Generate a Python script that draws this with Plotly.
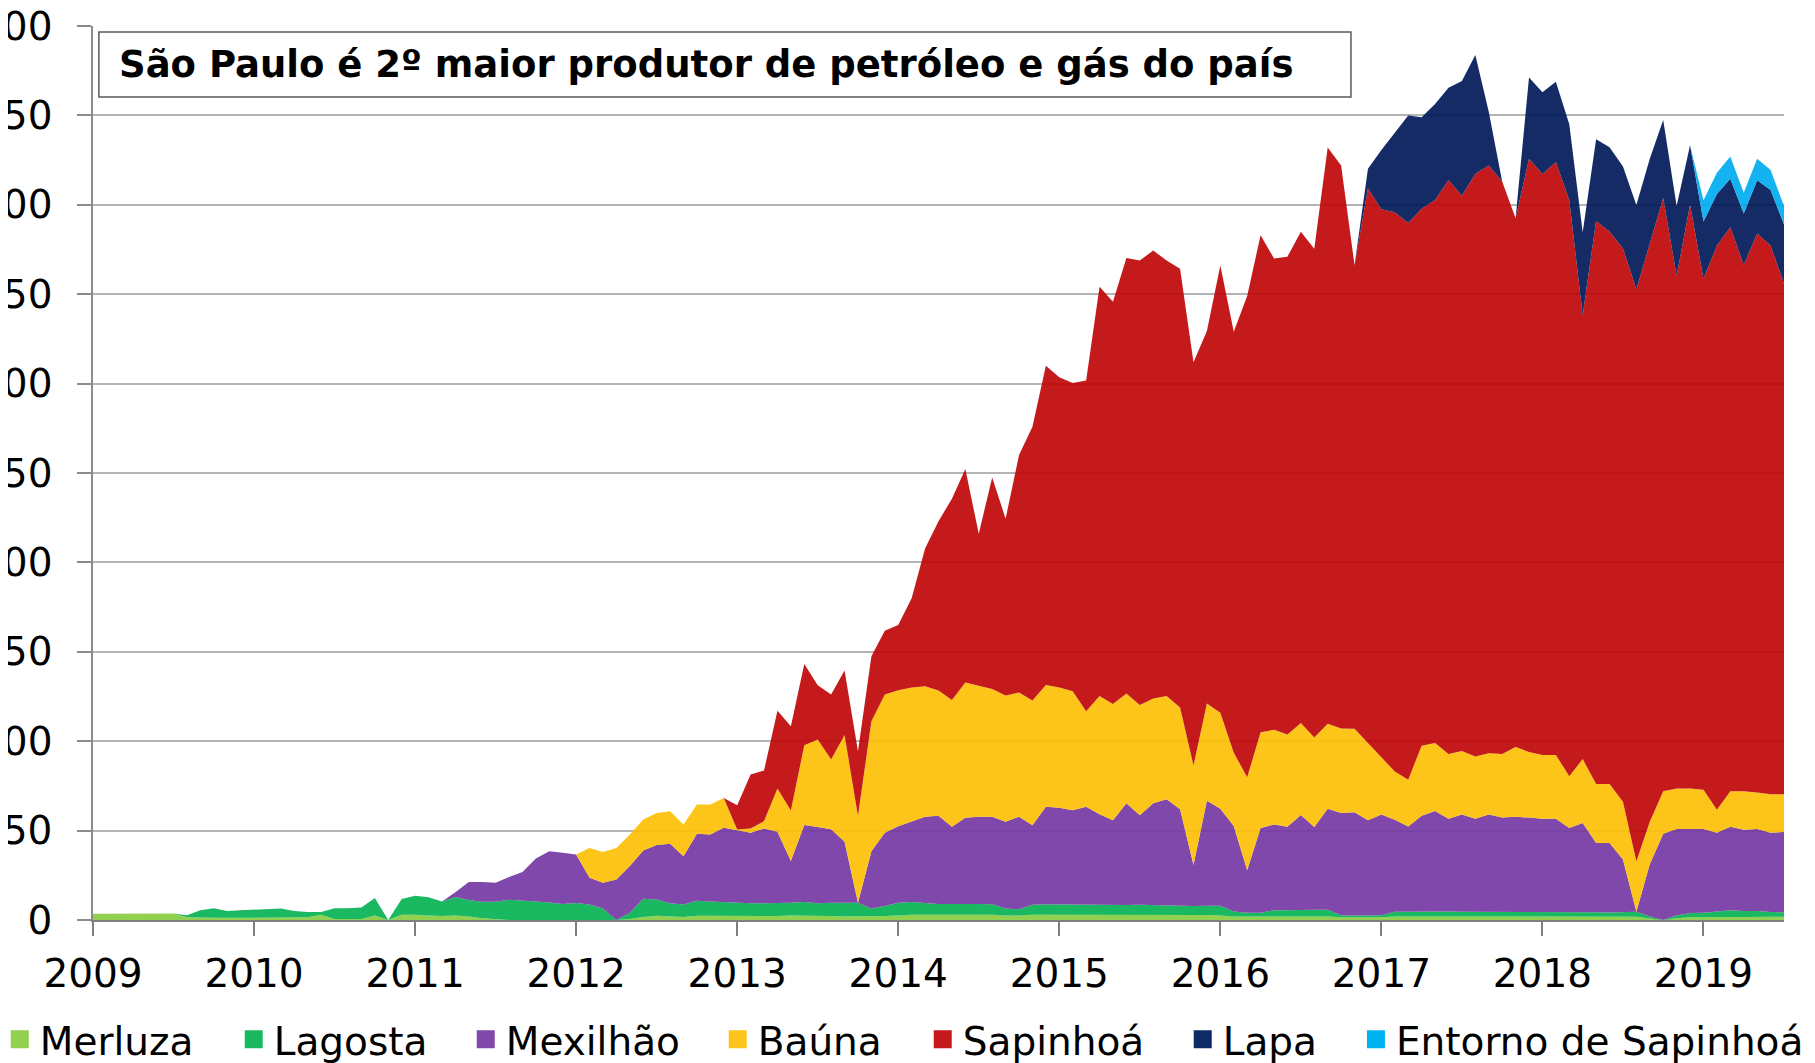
import plotly.graph_objects as go

# ---------------- data (monthly, Jan 2009 .. Jul 2019) ----------------
years = [2009, 2010, 2011, 2012, 2013, 2014, 2015, 2016, 2017, 2018, 2019]
months = [f"{y}-{m:02d}" for y in years for m in range(1, 13)][:127]
tick_months = [f"{y}-01" for y in years]
tick_labels = [str(y) for y in years]

merluza = [3.5, 3.5, 3.5, 3.6, 3.8, 3.8, 3.6, 1.5, 1.2, 1.2,
           1.2, 1.2, 1.2, 1.2, 1.2, 1.2, 1.5, 3.0, 0.5, 0.5,
           0.5, 2.5, 0.0, 3.0, 3.0, 2.5, 2.2, 2.5, 2.0, 1.0,
           0.3, 0.0, 0.0, 0.0, 0.0, 0.0, 0.0, 0.0, 0.0, 0.0,
           0.5, 1.7, 2.4, 1.9, 1.7, 2.4, 2.4, 2.2, 2.0, 2.0,
           2.0, 2.2, 2.5, 2.5, 2.5, 2.2, 2.0, 2.0, 1.8, 2.2,
           2.5, 3.0, 3.0, 3.0, 3.0, 3.0, 3.0, 3.0, 2.5, 2.5,
           3.0, 3.0, 3.0, 3.0, 3.0, 3.0, 3.0, 3.0, 3.0, 3.0,
           3.0, 2.8, 2.8, 2.8, 2.5, 2.0, 2.0, 2.0, 2.0, 2.0,
           2.0, 2.0, 2.0, 1.5, 1.5, 1.5, 1.5, 2.0, 2.0, 2.0,
           2.0, 2.0, 2.0, 2.0, 2.0, 2.0, 2.0, 1.8, 1.8, 1.8,
           1.8, 1.8, 1.8, 1.8, 1.8, 1.8, 0.8, 0.0, 1.0, 1.5,
           1.5, 1.5, 1.8, 1.8, 1.8, 1.8, 1.8]

lagosta = [0.0, 0.0, 0.0, 0.0, 0.0, 0.0, 0.0, 1.1, 4.3, 5.4,
           3.9, 4.3, 4.7, 4.7, 5.2, 3.9, 3.0, 1.5, 6.1, 6.1,
           6.5, 9.8, 0.0, 8.7, 10.6, 10.2, 8.2, 10.4, 9.2, 9.2,
           9.9, 11.3, 11.0, 10.4, 9.8, 9.0, 9.5, 8.7, 6.5, 0.0,
           3.6, 10.2, 9.1, 7.4, 6.9, 8.4, 8.0, 7.7, 7.7, 7.3,
           7.3, 7.1, 7.2, 7.5, 6.8, 7.5, 7.7, 7.7, 4.7, 5.6,
           7.2, 7.0, 6.5, 6.0, 6.0, 6.2, 6.0, 5.8, 4.0, 3.5,
           5.5, 5.8, 5.7, 5.5, 5.5, 5.6, 5.5, 5.4, 5.5, 5.3,
           5.2, 5.2, 5.0, 5.2, 5.5, 2.8, 2.0, 2.0, 3.5, 3.5,
           3.8, 3.8, 3.8, 1.2, 1.0, 1.0, 1.2, 2.6, 2.7, 2.8,
           2.8, 2.8, 2.6, 2.6, 2.5, 2.8, 2.8, 2.8, 2.7, 2.7,
           2.9, 2.7, 2.6, 2.4, 2.4, 2.8, 1.2, 0.0, 1.5, 2.4,
           2.5, 3.0, 3.6, 3.2, 3.2, 2.7, 2.5]

mexilhao = [0.0, 0.0, 0.0, 0.0, 0.0, 0.0, 0.0, 0.0, 0.0, 0.0,
            0.0, 0.0, 0.0, 0.0, 0.0, 0.0, 0.0, 0.0, 0.0, 0.0,
            0.0, 0.0, 0.0, 0.0, 0.0, 0.0, 0.0, 2.6, 10.0, 11.0,
            10.6, 12.7, 15.8, 24.0, 28.7, 28.6, 27.1, 14.9, 14.3, 22.7,
            26.1, 27.0, 30.4, 33.3, 27.1, 37.4, 37.4, 41.7, 40.4, 39.5,
            41.9, 40.0, 23.3, 43.1, 42.7, 41.0, 34.1, 0.0, 32.0, 41.0,
            42.8, 45.0, 48.3, 49.3, 43.2, 48.0, 48.8, 49.0, 48.5, 51.8,
            44.5, 54.5, 54.1, 52.9, 54.8, 50.6, 47.3, 56.9, 50.1, 57.0,
            59.3, 53.9, 23.0, 58.7, 54.2, 47.8, 23.8, 47.5, 47.9, 46.6,
            52.9, 46.2, 56.4, 57.2, 57.7, 53.3, 56.3, 51.4, 47.6, 53.5,
            56.2, 51.8, 54.4, 52.0, 54.5, 52.5, 52.9, 52.7, 52.1, 52.1,
            46.8, 49.7, 38.6, 38.8, 29.7, 0.0, 29.2, 48.2, 48.4, 47.0,
            46.9, 44.3, 46.8, 45.5, 45.9, 44.3, 44.9]

bauna = [0.0, 0.0, 0.0, 0.0, 0.0, 0.0, 0.0, 0.0, 0.0, 0.0,
         0.0, 0.0, 0.0, 0.0, 0.0, 0.0, 0.0, 0.0, 0.0, 0.0,
         0.0, 0.0, 0.0, 0.0, 0.0, 0.0, 0.0, 0.0, 0.0, 0.0,
         0.0, 0.0, 0.0, 0.0, 0.0, 0.0, 0.0, 16.7, 17.3, 17.6,
         17.6, 17.3, 18.0, 18.2, 17.7, 16.4, 16.8, 16.7, 0.5, 2.4,
         4.1, 24.3, 28.3, 44.7, 48.9, 39.1, 59.6, 48.4, 72.7, 77.3,
         76.0, 75.0, 73.0, 70.0, 70.8, 75.6, 73.0, 71.4, 70.6, 69.4,
         69.8, 68.1, 67.2, 66.6, 53.4, 66.1, 65.0, 61.4, 61.7, 58.6,
         57.8, 57.0, 55.6, 54.4, 53.7, 41.0, 52.0, 53.5, 53.0, 51.7,
         51.5, 50.0, 47.6, 47.2, 46.8, 43.3, 32.5, 27.0, 26.2, 39.1,
         38.0, 36.2, 35.5, 34.9, 34.3, 35.6, 39.0, 36.7, 35.7, 35.7,
         28.9, 35.8, 33.0, 33.0, 32.2, 28.2, 23.8, 23.8, 22.7, 22.7,
         22.0, 12.9, 19.8, 21.5, 20.4, 21.5, 21.1]

sapinhoa = [0.0, 0.0, 0.0, 0.0, 0.0, 0.0, 0.0, 0.0, 0.0, 0.0,
            0.0, 0.0, 0.0, 0.0, 0.0, 0.0, 0.0, 0.0, 0.0, 0.0,
            0.0, 0.0, 0.0, 0.0, 0.0, 0.0, 0.0, 0.0, 0.0, 0.0,
            0.0, 0.0, 0.0, 0.0, 0.0, 0.0, 0.0, 0.0, 0.0, 0.0,
            0.0, 0.0, 0.0, 0.0, 0.0, 0.0, 0.0, 0.0, 13.6, 30.2,
            28.3, 43.5, 47.1, 45.4, 30.4, 36.3, 36.1, 36.3, 36.3, 35.7,
            36.5, 50.0, 77.0, 94.7, 112.6, 119.4, 85.2, 118.3, 98.8, 132.8,
            153.0, 178.6, 173.6, 172.3, 185.0, 228.9, 225.0, 243.6, 248.6, 250.5,
            243.6, 245.3, 225.5, 208.3, 250.2, 235.4, 269.2, 278.0, 263.6, 267.2,
            274.7, 273.4, 322.2, 314.9, 259.2, 310.0, 306.0, 312.9, 311.3, 300.4,
            303.7, 321.1, 310.5, 325.9, 328.7, 320.1, 295.8, 331.7, 324.9, 331.7,
            322.2, 248.2, 314.8, 309.0, 309.5, 319.9, 324.0, 331.8, 286.7, 326.4,
            285.7, 315.5, 315.4, 294.3, 312.7, 306.9, 285.6]

lapa = [0.0, 0.0, 0.0, 0.0, 0.0, 0.0, 0.0, 0.0, 0.0, 0.0,
        0.0, 0.0, 0.0, 0.0, 0.0, 0.0, 0.0, 0.0, 0.0, 0.0,
        0.0, 0.0, 0.0, 0.0, 0.0, 0.0, 0.0, 0.0, 0.0, 0.0,
        0.0, 0.0, 0.0, 0.0, 0.0, 0.0, 0.0, 0.0, 0.0, 0.0,
        0.0, 0.0, 0.0, 0.0, 0.0, 0.0, 0.0, 0.0, 0.0, 0.0,
        0.0, 0.0, 0.0, 0.0, 0.0, 0.0, 0.0, 0.0, 0.0, 0.0,
        0.0, 0.0, 0.0, 0.0, 0.0, 0.0, 0.0, 0.0, 0.0, 0.0,
        0.0, 0.0, 0.0, 0.0, 0.0, 0.0, 0.0, 0.0, 0.0, 0.0,
        0.0, 0.0, 0.0, 0.0, 0.0, 0.0, 0.0, 0.0, 0.0, 0.0,
        0.0, 0.0, 0.0, 0.0, 0.0, 11.0, 33.2, 44.4, 60.2, 51.2,
        53.7, 51.5, 64.3, 66.4, 30.0, 0.0, 0.0, 45.5, 45.8, 44.8,
        42.4, 46.5, 45.8, 47.2, 45.8, 47.2, 46.7, 43.6, 39.0, 33.3,
        32.1, 28.8, 27.1, 28.9, 29.8, 31.1, 33.1]

entorno = [0.0, 0.0, 0.0, 0.0, 0.0, 0.0, 0.0, 0.0, 0.0, 0.0,
           0.0, 0.0, 0.0, 0.0, 0.0, 0.0, 0.0, 0.0, 0.0, 0.0,
           0.0, 0.0, 0.0, 0.0, 0.0, 0.0, 0.0, 0.0, 0.0, 0.0,
           0.0, 0.0, 0.0, 0.0, 0.0, 0.0, 0.0, 0.0, 0.0, 0.0,
           0.0, 0.0, 0.0, 0.0, 0.0, 0.0, 0.0, 0.0, 0.0, 0.0,
           0.0, 0.0, 0.0, 0.0, 0.0, 0.0, 0.0, 0.0, 0.0, 0.0,
           0.0, 0.0, 0.0, 0.0, 0.0, 0.0, 0.0, 0.0, 0.0, 0.0,
           0.0, 0.0, 0.0, 0.0, 0.0, 0.0, 0.0, 0.0, 0.0, 0.0,
           0.0, 0.0, 0.0, 0.0, 0.0, 0.0, 0.0, 0.0, 0.0, 0.0,
           0.0, 0.0, 0.0, 0.0, 0.0, 0.0, 0.0, 0.0, 0.0, 0.0,
           0.0, 0.0, 0.0, 0.0, 0.0, 0.0, 0.0, 0.0, 0.0, 0.0,
           0.0, 0.0, 0.0, 0.0, 0.0, 0.0, 0.0, 0.0, 0.0, 0.0,
           11.9, 11.9, 12.5, 11.5, 11.9, 11.2, 10.3]

series_names = ["Merluza", "Lagosta", "Mexilhão", "Baúna", "Sapinhoá", "Lapa", "Entorno de Sapinhoá"]
series_values = [merluza, lagosta, mexilhao, bauna, sapinhoa, lapa, entorno]

# ---------------- style ----------------
colors = ["#92d050", "#1bb860", "#7f48aa", "#fdc51b", "#c41a1c", "#0f2b65", "#00b2f0"]
legend_widths = [189, 187, 207, 160, 215, 129, None]
legend_ids = ["legend", "legend", "legend", "legend", "legend", "legend", "legend2"]
FONT = "DejaVu Sans"
ALPHA = 0.92


def translucent(hex_color, alpha=ALPHA):
    h = hex_color.lstrip("#")
    rgb = [int(h[i:i + 2], 16) for i in (0, 2, 4)]
    base = [max(0, min(255, round((c - (1 - alpha) * 255) / alpha))) for c in rgb]
    return f"rgba({base[0]},{base[1]},{base[2]},{alpha})"


fig = go.Figure()

for name, vals, col in zip(series_names, series_values, colors):
    fig.add_trace(go.Scatter(
        x=months, y=vals, name=name, mode="lines", stackgroup="one",
        line=dict(width=0, color=col), fillcolor=translucent(col),
        showlegend=False, hoverinfo="x+y+name",
    ))

# legend entries (square swatches)
for name, col, lw, lg in zip(series_names, colors, legend_widths, legend_ids):
    kw = dict(legendwidth=lw) if lw else {}
    fig.add_trace(go.Scatter(
        x=[months[0]], y=[None], name=name, mode="markers",
        marker=dict(symbol="square", size=16, color=col, line=dict(width=2, color=col)),
        showlegend=True, legend=lg, hoverinfo="skip", **kw,
    ))

# page body adds an 8px offset; the figure is sized to fill the rest of the window
OFF = 8
W, H = 1815 - OFF, 1063 - OFF
PLOT_L, PLOT_T, PLOT_R, PLOT_B = 92.6, 25.5, 1784.2, 920.0   # window pixels
ML = PLOT_L - OFF
MT = PLOT_T - OFF
MR = W - (PLOT_R - OFF)
MB = H - (PLOT_B - OFF)
PW, PH = W - ML - MR, H - MT - MB


def px_x(wx):
    return (wx - OFF - ML) / PW


def px_y(wy):
    return (H - MB - (wy - OFF)) / PH


legend_common = dict(
    orientation="h", xanchor="left", yanchor="middle",
    xref="paper", yref="paper", y=px_y(1039.5),
    font=dict(family=FONT, size=39, color="black"),
    bgcolor="rgba(0,0,0,0)", borderwidth=0, itemsizing="trace",
    traceorder="normal",
)

fig.update_layout(
    width=W, height=H,
    margin=dict(l=ML, r=MR, t=MT, b=MB, autoexpand=False),
    plot_bgcolor="white", paper_bgcolor="white",
    font=dict(family=FONT, size=39, color="black"),
    showlegend=True,
    xaxis=dict(
        type="category", range=[0, len(months) - 1],
        tickmode="array", tickvals=tick_months, ticktext=tick_labels,
        ticks="outside", ticklen=14, tickwidth=1.5, tickcolor="#7f7f7f",
        showline=True, linecolor="#7f7f7f", linewidth=2,
        showgrid=False, zeroline=False, ticklabelstandoff=4,
        tickfont=dict(family=FONT, size=39, color="black"),
    ),
    yaxis=dict(
        range=[0, 500], tickmode="linear", tick0=0, dtick=50,
        ticks="outside", ticklen=14, tickwidth=1.5, tickcolor="#8c8c8c",
        showline=True, linecolor="#8c8c8c", linewidth=1.5,
        showgrid=True, gridcolor="#b4b4b4", gridwidth=1.5,
        zeroline=False, ticklabelstandoff=17, ticklabeloverflow="allow",
        tickfont=dict(family=FONT, size=39, color="black"),
    ),
    legend=dict(x=px_x(-0.7), **legend_common),
    legend2=dict(x=px_x(1356), **legend_common),
    shapes=[dict(
        type="rect", xref="paper", yref="paper",
        x0=px_x(98.5), x1=px_x(1351), y0=px_y(96.5), y1=px_y(31.5),
        line=dict(color="#595959", width=1.5), fillcolor="white", layer="above",
    )],
    annotations=[dict(
        text="<b>São Paulo é 2º maior produtor de petróleo e gás do país</b>",
        xref="paper", yref="paper", x=px_x(117), y=px_y(64),
        xanchor="left", yanchor="middle", showarrow=False,
        font=dict(family=FONT, size=37, color="black"),
    )],
)

fig.write_html("out.html")
